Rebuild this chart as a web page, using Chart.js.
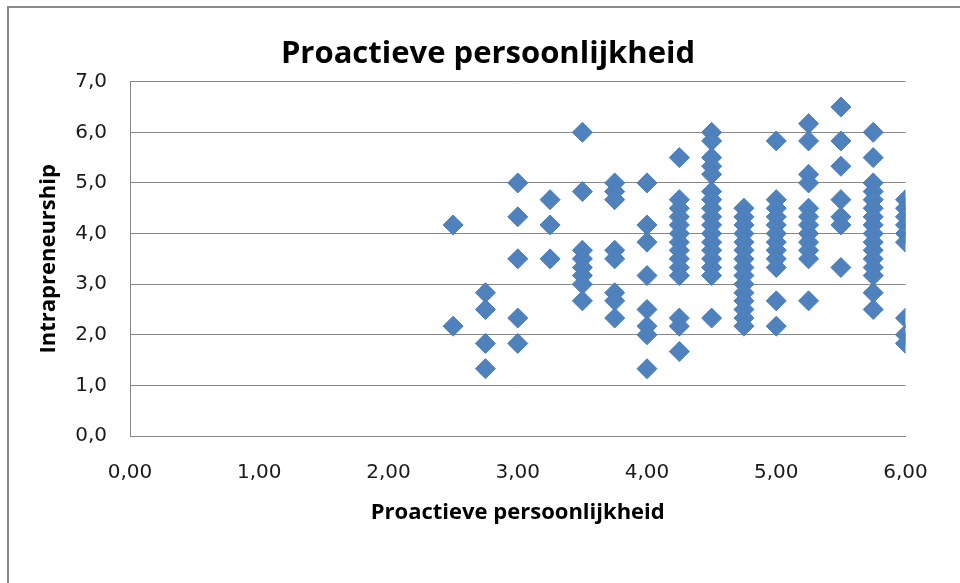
<!DOCTYPE html>
<html>
<head>
<meta charset="utf-8">
<script src="https://cdn.jsdelivr.net/npm/chart.js@4"></script>
<style>
  html, body { margin: 0; padding: 0; background: #ffffff; }
  #c { display: block; }
</style>
</head>
<body>
<canvas id="c" width="960" height="583"></canvas>
<script>
// Proactieve persoonlijkheid levels (x) and the Intrapreneurship scores observed at each level (y)
const proactiveLevels = [2.5, 2.75, 3.0, 3.25, 3.5, 3.75, 4.0, 4.25, 4.5, 4.75, 5.0, 5.25, 5.5, 5.75, 6.0];
const intrapreneurshipByLevel = [
  [4.17, 2.17],
  [2.83, 2.5, 1.83, 1.33],
  [5.0, 4.33, 3.5, 2.33, 1.83],
  [4.67, 4.17, 3.5],
  [6.0, 4.83, 3.67, 3.5, 3.33, 3.17, 3.0, 2.67],
  [5.0, 4.83, 4.67, 3.67, 3.5, 2.83, 2.67, 2.33],
  [5.0, 4.17, 3.83, 3.17, 2.5, 2.17, 2.0, 1.33],
  [5.5, 4.67, 4.5, 4.33, 4.17, 4.0, 3.83, 3.67, 3.5, 3.33, 3.17, 2.33, 2.17, 1.67],
  [6.0, 5.83, 5.5, 5.33, 5.17, 4.83, 4.67, 4.5, 4.33, 4.17, 4.0, 3.83, 3.67, 3.5, 3.33, 3.17, 2.33],
  [4.5, 4.33, 4.17, 4.0, 3.83, 3.67, 3.5, 3.33, 3.17, 3.0, 2.83, 2.67, 2.5, 2.33, 2.17],
  [5.83, 4.67, 4.5, 4.33, 4.17, 4.0, 3.83, 3.67, 3.5, 3.33, 2.67, 2.17],
  [6.17, 5.83, 5.17, 5.0, 4.5, 4.33, 4.17, 4.0, 3.83, 3.67, 3.5, 2.67],
  [6.5, 5.83, 5.33, 4.67, 4.33, 4.17, 3.33],
  [6.0, 5.5, 5.0, 4.83, 4.67, 4.5, 4.33, 4.17, 4.0, 3.83, 3.67, 3.5, 3.33, 3.17, 2.83, 2.5],
  [4.67, 4.5, 4.33, 4.17, 4.0, 3.83, 2.33, 2.0, 1.83]
];
const xTickLabels = ['0,00', '1,00', '2,00', '3,00', '4,00', '5,00', '6,00'];
const yTickLabels = ['0,0', '1,0', '2,0', '3,0', '4,0', '5,0', '6,0', '7,0'];
const chartTitle = 'Proactieve persoonlijkheid';
const xAxisTitle = 'Proactieve persoonlijkheid';
const yAxisTitle = 'Intrapreneurship';

const points = [];
proactiveLevels.forEach((x, i) => {
  intrapreneurshipByLevel[i].forEach(y => points.push({ x: x, y: y }));
});

const frame = {
  id: 'frame',
  beforeDraw(chart) {
    const ctx = chart.ctx;
    ctx.save();
    ctx.fillStyle = '#ffffff';
    ctx.fillRect(0, 0, chart.width, chart.height);
    ctx.strokeStyle = '#898989';
    ctx.lineWidth = 2;
    ctx.strokeRect(8, 7, 1200, 1200);
    ctx.restore();
  }
};

const gridGray = '#878787';
const tickFont = { family: 'DejaVu Sans', size: 20 };
const titleFamily = "'Open Sans'";

new Chart(document.getElementById('c'), {
  type: 'scatter',
  data: {
    datasets: [{
      label: yAxisTitle,
      data: points,
      pointStyle: 'rectRot',
      pointRadius: 10,
      pointHoverRadius: 10,
      backgroundColor: '#4F81BD',
      borderColor: '#4A7EBB',
      borderWidth: 1
    }]
  },
  options: {
    responsive: false,
    animation: false,
    devicePixelRatio: 1,
    layout: { padding: { left: 16, right: 0, top: 0, bottom: 0 } },
    plugins: {
      legend: { display: false },
      tooltip: { enabled: false },
      title: {
        display: true,
        text: chartTitle,
        color: '#000000',
        font: { family: titleFamily, size: 31, weight: 'bold' },
        padding: { top: 35.5, bottom: 9 }
      }
    },
    scales: {
      x: {
        type: 'linear',
        min: 0, max: 6,
        grid: { display: false, drawTicks: false },
        border: { display: true, color: gridGray, width: 1 },
        ticks: {
          stepSize: 1,
          padding: 25,
          color: '#1a1a1a',
          font: tickFont,
          maxRotation: 0,
          callback: (v, i) => xTickLabels[i]
        },
        title: {
          display: true,
          text: xAxisTitle,
          color: '#000000',
          font: { family: titleFamily, size: 22, weight: 'bold' },
          padding: { top: 0, bottom: 57.3 }
        },
        afterFit(s) { s.height = 147; }
      },
      y: {
        type: 'linear',
        position: 'left',
        min: 0, max: 7,
        grid: { color: gridGray, lineWidth: 1, drawTicks: false },
        border: { display: true, color: gridGray, width: 1 },
        ticks: {
          stepSize: 1,
          padding: 23,
          color: '#1a1a1a',
          font: tickFont,
          callback: (v, i) => yTickLabels[i]
        },
        title: {
          display: true,
          text: yAxisTitle,
          color: '#000000',
          font: { family: titleFamily, size: 22, weight: 'bold' },
          padding: { top: 19.6, bottom: 0 }
        },
        afterFit(s) { s.width = 114; }
      },
      yR: {
        type: 'linear',
        position: 'right',
        display: true,
        grid: { display: false, drawTicks: false },
        border: { display: false },
        ticks: { display: false },
        afterFit(s) { s.width = 54.5; }
      }
    }
  },
  plugins: [frame]
});
</script>
</body>
</html>
